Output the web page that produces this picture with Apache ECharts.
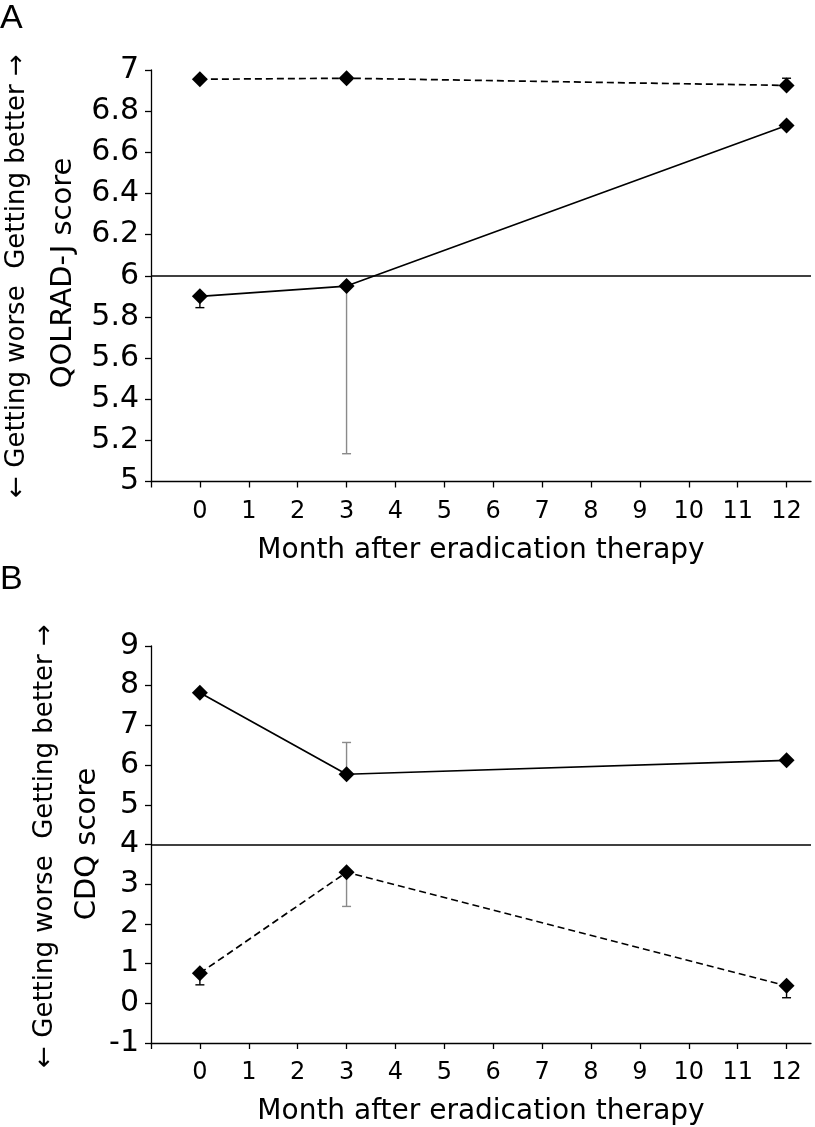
<!DOCTYPE html>
<html>
<head>
<meta charset="utf-8">
<script src="https://cdn.jsdelivr.net/npm/echarts@6/dist/echarts.min.js"></script>
<style>
  html, body { margin: 0; padding: 0; background: #fff; }
  #chart { width: 815px; height: 1127px; }
</style>
</head>
<body>
<div id="chart"></div>
<script>
// ---- data ----
const months = [0, 3, 12];
const xTickValues = [-1, 0, 1, 2, 3, 4, 5, 6, 7, 8, 9, 10, 11, 12];
const xTickLabels = [0, 1, 2, 3, 4, 5, 6, 7, 8, 9, 10, 11, 12];
const yTicksA = [5, 5.2, 5.4, 5.6, 5.8, 6, 6.2, 6.4, 6.6, 6.8, 7];
const yTicksB = [-1, 0, 1, 2, 3, 4, 5, 6, 7, 8, 9];

// Panel A: QOLRAD-J
const qolradSolid = [5.90, 5.95, 6.73];
const qolradDashed = [6.955, 6.96, 6.925];
// error bars: [month, mean, tip]
const qolradSolidErr = [[0, 5.90, 5.845], [3, 5.95, 5.135]];
const qolradDashedErr = [[12, 6.925, 6.96]];
const qolradBaseline = 6;

// Panel B: CDQ
const cdqSolid = [7.82, 5.77, 6.12];
const cdqDashed = [0.76, 3.30, 0.44];
const cdqSolidErr = [[3, 5.77, 6.57]];
const cdqDashedErr = [[0, 0.76, 0.465], [3, 3.30, 2.44], [12, 0.44, 0.14]];
const cdqBaseline = 4;

const xTitle = 'Month after eradication therapy';
const yTitleA = 'QOLRAD-J score';
const yTitleB = 'CDQ score';
const sideLabel = '\u2190 Getting worse  Getting better \u2192';

// ---- styles ----
const FONT = 'DejaVu Sans';
const errColorByMonth = { 3: '#8a8a8a' };

function pairs(xs, ys) { return xs.map((x, i) => [x, ys[i]]); }

function xAxisCfg(gi) {
  return {
    type: 'value', gridIndex: gi, min: xTickValues[0], max: 12.5,
    interval: 1,
    axisLine: { show: true, onZero: false, lineStyle: { color: '#000', width: 1.3 } },
    axisTick: { show: true, customValues: xTickValues, length: 6, lineStyle: { color: '#000', width: 1.3 } },
    axisLabel: {
      customValues: xTickLabels, margin: 18, color: '#000', fontFamily: FONT, fontSize: 24,
      formatter: v => (Number.isInteger(v) && v >= 0) ? String(v) : ''
    },
    splitLine: { show: false },
    name: xTitle, nameLocation: 'middle', nameGap: 55,
    nameTextStyle: { color: '#000', fontFamily: FONT, fontSize: 28 }
  };
}

function yAxisCfg(gi, ticks, interval) {
  return {
    type: 'value', gridIndex: gi, min: ticks[0], max: ticks[ticks.length - 1], interval: interval,
    axisLine: { show: true, onZero: false, lineStyle: { color: '#000', width: 1.3 } },
    axisTick: { show: true, length: 6, lineStyle: { color: '#000', width: 1.3 } },
    axisLabel: { margin: 12, color: '#000', fontFamily: FONT, fontSize: 30 },
    splitLine: { show: false }
  };
}

function lineSeries(xi, ys, dashed, baseline) {
  const s = {
    type: 'line', xAxisIndex: xi, yAxisIndex: xi, z: 3,
    data: pairs(months, ys),
    symbol: 'diamond', symbolSize: 16,
    itemStyle: { color: '#000' },
    lineStyle: { color: '#000', width: 1.7, type: dashed ? [7, 4] : 'solid' },
    animation: false
  };
  if (baseline != null) {
    s.markLine = {
      silent: true, symbol: ['none', 'none'], z: 1,
      label: { show: false },
      lineStyle: { color: '#000', width: 1.6, type: 'solid' },
      data: [{ yAxis: baseline }]
    };
  }
  return s;
}

function errSeries(xi, data) {
  return {
    type: 'custom', xAxisIndex: xi, yAxisIndex: xi, z: 2, animation: false,
    data: data,
    encode: { x: 0, y: [1, 2] },
    renderItem: function (params, api) {
      const x = api.value(0), from = api.value(1), tip = api.value(2);
      const p0 = api.coord([x, from]);
      const p1 = api.coord([x, tip]);
      const color = errColorByMonth[x] || '#000';
      const style = { stroke: color, lineWidth: 1.4, fill: null };
      return {
        type: 'group',
        children: [
          { type: 'line', shape: { x1: p0[0], y1: p0[1], x2: p1[0], y2: p1[1] }, style: style },
          { type: 'line', shape: { x1: p1[0] - 4.5, y1: p1[1], x2: p1[0] + 4.5, y2: p1[1] }, style: style }
        ]
      };
    }
  };
}

const chart = echarts.init(document.getElementById('chart'), null, { renderer: 'canvas' });
chart.setOption({
  backgroundColor: '#fff',
  animation: false,
  grid: [
    { left: 151, right: 4, top: 70, height: 411.5 },
    { left: 151, right: 4, top: 646, height: 397 }
  ],
  xAxis: [xAxisCfg(0), xAxisCfg(1)],
  yAxis: [yAxisCfg(0, yTicksA, 0.2), yAxisCfg(1, yTicksB, 1)],
  graphic: [
    { type: 'text', left: 0, top: 2, style: { text: 'A', font: '34px "Liberation Sans"', fill: '#000' } },
    { type: 'text', left: 0, top: 563, style: { text: 'B', font: '34px "Liberation Sans"', fill: '#000' } },
    { type: 'text', x: 17, y: 276, rotation: Math.PI / 2,
      style: { text: sideLabel, font: '26px "DejaVu Sans"', fill: '#000', textAlign: 'center', textVerticalAlign: 'middle' } },
    { type: 'text', x: 63, y: 273, rotation: Math.PI / 2,
      style: { text: yTitleA, font: '29px "DejaVu Sans"', fill: '#000', textAlign: 'center', textVerticalAlign: 'middle' } },
    { type: 'text', x: 45, y: 846, rotation: Math.PI / 2,
      style: { text: sideLabel, font: '26px "DejaVu Sans"', fill: '#000', textAlign: 'center', textVerticalAlign: 'middle' } },
    { type: 'text', x: 87, y: 844, rotation: Math.PI / 2,
      style: { text: yTitleB, font: '29px "DejaVu Sans"', fill: '#000', textAlign: 'center', textVerticalAlign: 'middle' } }
  ],
  series: [
    errSeries(0, qolradSolidErr),
    errSeries(0, qolradDashedErr),
    lineSeries(0, qolradSolid, false, qolradBaseline),
    lineSeries(0, qolradDashed, true, null),
    errSeries(1, cdqSolidErr),
    errSeries(1, cdqDashedErr),
    lineSeries(1, cdqSolid, false, cdqBaseline),
    lineSeries(1, cdqDashed, true, null)
  ]
});
</script>
</body>
</html>
